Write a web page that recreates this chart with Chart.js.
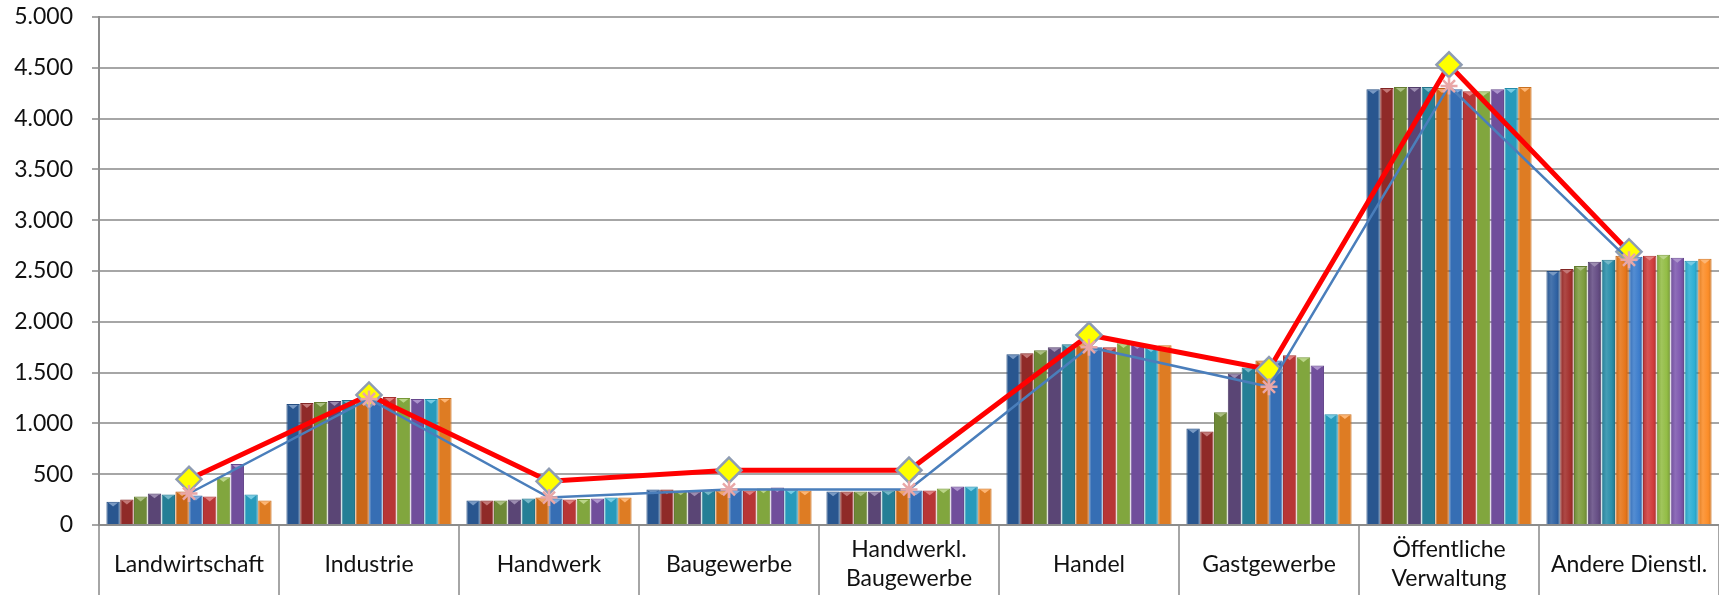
<!DOCTYPE html>
<html>
<head>
<meta charset="utf-8">
<script src="https://cdn.jsdelivr.net/npm/chart.js@4.4.1/dist/chart.umd.min.js"></script>
<style>
  html, body { margin: 0; padding: 0; background: #fff; }
  #wrap { width: 1719px; height: 595px; }
</style>
</head>
<body>
<div id="wrap"><canvas id="Chart"></canvas></div>
<script>
var categories = ['Landwirtschaft', 'Industrie', 'Handwerk', 'Baugewerbe', ['Handwerkl.', 'Baugewerbe'],
    'Handel', 'Gastgewerbe', ['Öffentliche', 'Verwaltung'], 'Andere Dienstl.'];

// 12 bars per category, read left to right
var landwirtschaft = [230, 250, 280, 310, 300, 330, 290, 280, 470, 600, 300, 240];
var industrie      = [1190, 1200, 1210, 1220, 1230, 1240, 1250, 1260, 1250, 1240, 1240, 1250];
var handwerk       = [240, 240, 240, 250, 260, 270, 260, 250, 255, 260, 270, 270];
var baugewerbe     = [350, 350, 340, 330, 340, 340, 350, 340, 360, 370, 350, 340];
var hwBaugewerbe   = [330, 330, 330, 330, 340, 350, 340, 340, 360, 380, 380, 360];
var handel         = [1680, 1690, 1720, 1750, 1780, 1790, 1750, 1750, 1790, 1780, 1750, 1770];
var gastgewerbe    = [950, 920, 1110, 1490, 1550, 1620, 1620, 1670, 1650, 1570, 1090, 1090];
var verwaltung     = [4290, 4300, 4310, 4310, 4310, 4300, 4290, 4270, 4270, 4290, 4300, 4310];
var andere         = [2500, 2520, 2550, 2590, 2610, 2650, 2640, 2650, 2660, 2630, 2600, 2620];

var redLine  = [450, 1280, 430, 540, 540, 1870, 1530, 4530, 2690];
var blueLine = [310, 1240, 270, 350, 350, 1750, 1360, 4320, 2610];

var yTicks = [0, 500, 1000, 1500, 2000, 2500, 3000, 3500, 4000, 4500, 5000];

var barColors = ['#2f62a3', '#a3302d', '#7d9c3e', '#664e85', '#2b90ab', '#e6751a',
                 '#3d7dcc', '#d13d3d', '#93bd46', '#7f59b0', '#2cafd4', '#fc8d28'];

var byCategory = [landwirtschaft, industrie, handwerk, baugewerbe, hwBaugewerbe,
                  handel, gastgewerbe, verwaltung, andere];

function shade(hex, f) {
    var n = parseInt(hex.slice(1), 16);
    var r = (n >> 16) & 255, g = (n >> 8) & 255, b = n & 255;
    function c(v) {
        v = f < 0 ? v * (1 + f) : v + (255 - v) * f;
        return Math.max(0, Math.min(255, Math.round(v)));
    }
    return 'rgb(' + c(r) + ',' + c(g) + ',' + c(b) + ')';
}

function fmt(v) {
    return String(v).replace(/\B(?=(\d{3})+(?!\d))/g, '.');
}

var datasets = [];
barColors.forEach(function(col, i) {
    datasets.push({
        type: 'bar',
        label: 'Reihe ' + (i + 1),
        data: byCategory.map(function(row) { return row[i]; }),
        backgroundColor: col,
        borderColor: shade(col, -0.2),
        borderWidth: 1,
        categoryPercentage: 0.92,
        barPercentage: 0.97,
        order: 10
    });
});
datasets.push({
    type: 'line',
    label: 'Linie rot',
    data: redLine,
    borderColor: '#ff0000',
    borderWidth: 5,
    pointStyle: 'rectRot',
    pointRadius: 12.5,
    pointBackgroundColor: '#ffff00',
    pointBorderColor: '#8e9cb3',
    pointBorderWidth: 2.5,
    order: 2
});
datasets.push({
    type: 'line',
    label: 'Linie blau',
    data: blueLine,
    borderColor: '#4a7ebb',
    borderWidth: 2.5,
    pointStyle: 'star',
    pointRadius: 8.5,
    pointBorderColor: '#e9a7a7',
    pointBorderWidth: 2.5,
    order: 1
});

function barIndexes(chart) {
    return chart.data.datasets.map(function(ds, i) { return ds.type === 'bar' ? i : -1; })
        .filter(function(i) { return i >= 0; });
}

// cylinder-ish shading on the bars, plus the little bevel on top
var barShade = {
    id: 'barShade',
    beforeDatasetsDraw: function(chart) {
        var ctx = chart.ctx;
        barIndexes(chart).forEach(function(di) {
            var base = barColors[di];
            chart.getDatasetMeta(di).data.forEach(function(el) {
                var x0 = el.x - el.width / 2, x1 = el.x + el.width / 2;
                var g = ctx.createLinearGradient(x0, 0, x1, 0);
                g.addColorStop(0, shade(base, -0.12));
                g.addColorStop(0.35, shade(base, 0.12));
                g.addColorStop(0.75, base);
                g.addColorStop(1, shade(base, -0.18));
                el.options.backgroundColor = g;
            });
        });
    },
    afterDatasetDraw: function(chart, args) {
        var ds = chart.data.datasets[args.index];
        if (ds.type !== 'bar') return;
        var ctx = chart.ctx;
        var base = barColors[args.index];
        ctx.save();
        ctx.fillStyle = shade(base, 0.35);
        args.meta.data.forEach(function(el) {
            var w = el.width * 0.36;
            ctx.beginPath();
            ctx.moveTo(el.x - w, el.y + 1);
            ctx.lineTo(el.x + w, el.y + 1);
            ctx.lineTo(el.x, el.y + 1 + w * 0.8);
            ctx.closePath();
            ctx.fill();
        });
        ctx.restore();
    }
};

const ctx = document.getElementById('Chart');
window.myChart = new Chart(ctx, {
    type: 'bar',
    data: { labels: categories, datasets: datasets },
    plugins: [barShade],
    options: {
        responsive: true,
        maintainAspectRatio: false,
        animation: false,
        layout: { autoPadding: false, padding: { top: 17, right: 0, left: 0, bottom: 0 } },
        plugins: { legend: { display: false }, tooltip: { enabled: false } },
        scales: {
            x: {
                offset: true,
                afterFit: function(scale) { scale.height = 70; },
                border: { color: '#8c8c8c', width: 2 },
                grid: {
                    offset: true,
                    drawOnChartArea: false,
                    tickLength: 70,
                    color: '#a6a6a6',
                    lineWidth: 2
                },
                ticks: {
                    padding: -45,
                    crossAlign: 'center',
                    color: '#111',
                    font: { family: 'Lato', size: 23, lineHeight: 1.25 }
                }
            },
            y: {
                min: 0,
                max: 5000,
                afterFit: function(scale) {
                    scale.width = 99;
                    scale.paddingTop = 0;
                    scale.paddingBottom = 0;
                },
                afterBuildTicks: function(scale) {
                    scale.ticks = yTicks.map(function(v) { return { value: v }; });
                },
                border: { color: '#8c8c8c', width: 2 },
                grid: { color: '#a6a6a6', lineWidth: 2, tickLength: 7 },
                ticks: {
                    padding: 19,
                    color: '#111',
                    font: { family: 'Lato', size: 23 },
                    callback: function(v) { return fmt(v); }
                }
            }
        }
    }
});
</script>
</body>
</html>
